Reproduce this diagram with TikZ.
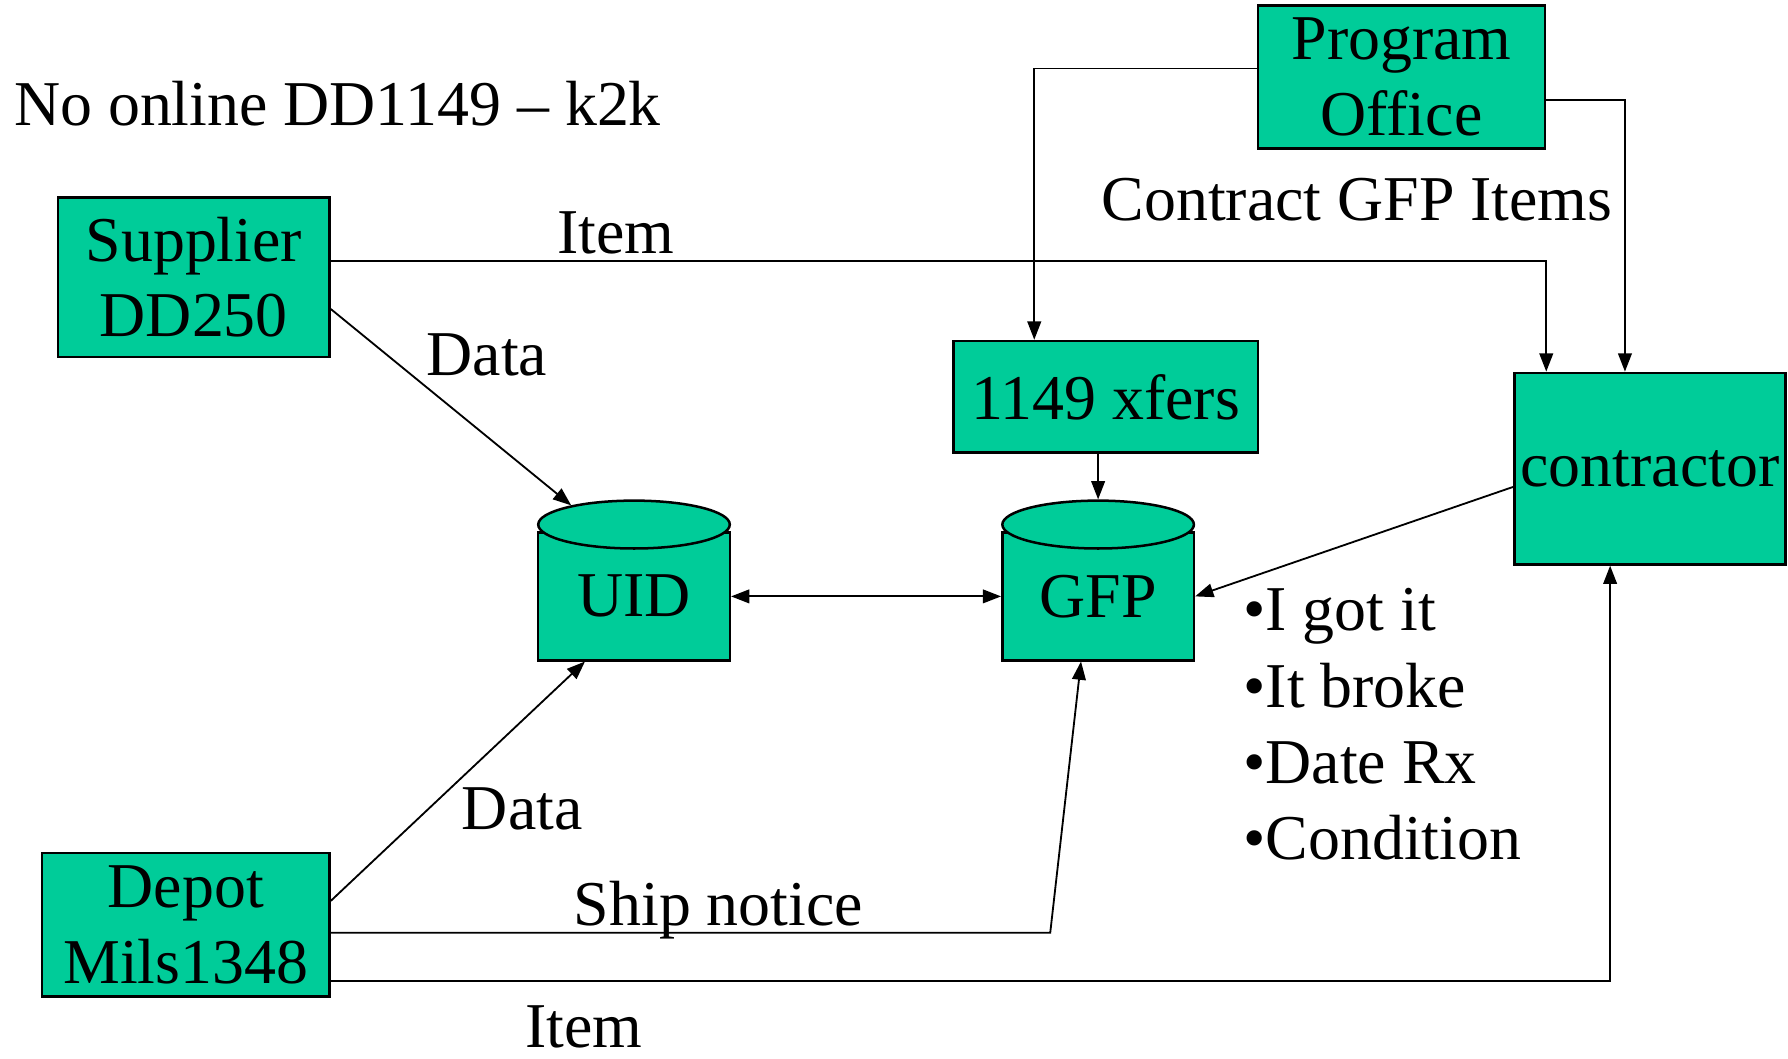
\documentclass[tikz,border=0pt]{standalone}
\usepackage{fontspec}
\setmainfont{Liberation Serif}
\usetikzlibrary{arrows.meta,calc,shapes.geometric}
\definecolor{boxgreen}{RGB}{0,204,153}
\begin{document}
\begin{tikzpicture}[x=0.5pt,y=-0.5pt,
  box/.style={draw=black, line width=1.1pt, fill=boxgreen, inner sep=0pt, align=center, font=\fontsize{28}{33}\selectfont},
  cyltop/.style={draw=black, line width=1.1pt, fill=boxgreen, ellipse, inner sep=0pt, minimum width=84pt, minimum height=21pt},
  lbl/.style={inner sep=0pt, font=\fontsize{28}{33.5}\selectfont},
  arr/.style={-{Triangle[length=8pt,width=6pt]}, line width=0.8pt},
  dblarr/.style={{Triangle[length=8pt,width=6pt]}-{Triangle[length=8pt,width=6pt]}, line width=0.8pt}]
\useasboundingbox (0,0) rectangle (1568,928);
% boxes
\node[box, minimum width=126pt, minimum height=62.5pt] (po) at (1229,67.5) {Program\\Office};
\node[box, minimum width=119pt, minimum height=70pt] (sup) at (170,243) {Supplier\\DD250};
\node[box, minimum width=133.5pt, minimum height=49pt] (x1149) at (969.5,348) {1149 xfers};
\node[box, minimum width=119pt, minimum height=84pt] (con) at (1447,411) {contractor};
\node[box, minimum width=126pt, minimum height=63pt] (dep) at (163,811) {Depot\\Mils1348};
% cylinders
\node[box, minimum width=84pt, minimum height=56pt] (uid) at (556,523) {UID};
\node[cyltop] (uidtop) at (556,460) {};
\node[box, minimum width=84pt, minimum height=56pt] (gfp) at (963,523) {GFP};
\node[cyltop] (gfptop) at (963,460) {};
% labels
\node[lbl, anchor=base west] (title) at (12,110) {No online DD1149 – k2k};
\node[lbl, anchor=base] (itemtop) at (540,222) {Item};
\node[lbl, anchor=base] (datatop) at (427,329) {Data};
\node[lbl, anchor=base] (contract) at (1190,193) {Contract GFP Items};
\node[lbl, anchor=base] (databot) at (458,727) {Data};
\node[lbl, anchor=base] (ship) at (630,812) {Ship notice};
\node[lbl, anchor=base] (itembot) at (512,919) {Item};
\node[lbl, anchor=base west, align=left] (bullets) at (1090,754) {•I got it\\•It broke\\•Date Rx\\•Condition};
% connectors
\draw[arr] ([yshift=-14pt]sup.east) -- (uidtop.163);
\draw[arr] ([yshift=7pt]sup.east) -| ([xshift=-45.5pt]con.north);
\draw[arr] ([yshift=3.75pt]po.west) -| ([xshift=-31.25pt]x1149.north);
\draw[arr] ([yshift=-10.25pt]po.east) -| ([xshift=-11pt]con.north);
\draw[arr] (x1149.south -| gfptop.north) -- (gfptop.north);
\draw[arr] ([yshift=-8pt]con.west) -- (gfp.east);
\draw[dblarr] (uid.east) -- (gfp.west);
\draw[arr] ([yshift=10.5pt]dep.east) -- ([xshift=-21.5pt]uid.south);
\coordinate (shipx) at (921,0);
\coordinate (depship) at ([yshift=-3.5pt]dep.east);
\draw[arr] (depship) -- (depship -| shipx) -- ([xshift=-7.5pt]gfp.south);
\draw[arr] ([yshift=-24.5pt]dep.east) -| ([xshift=-17.5pt]con.south);
\end{tikzpicture}
\end{document}
